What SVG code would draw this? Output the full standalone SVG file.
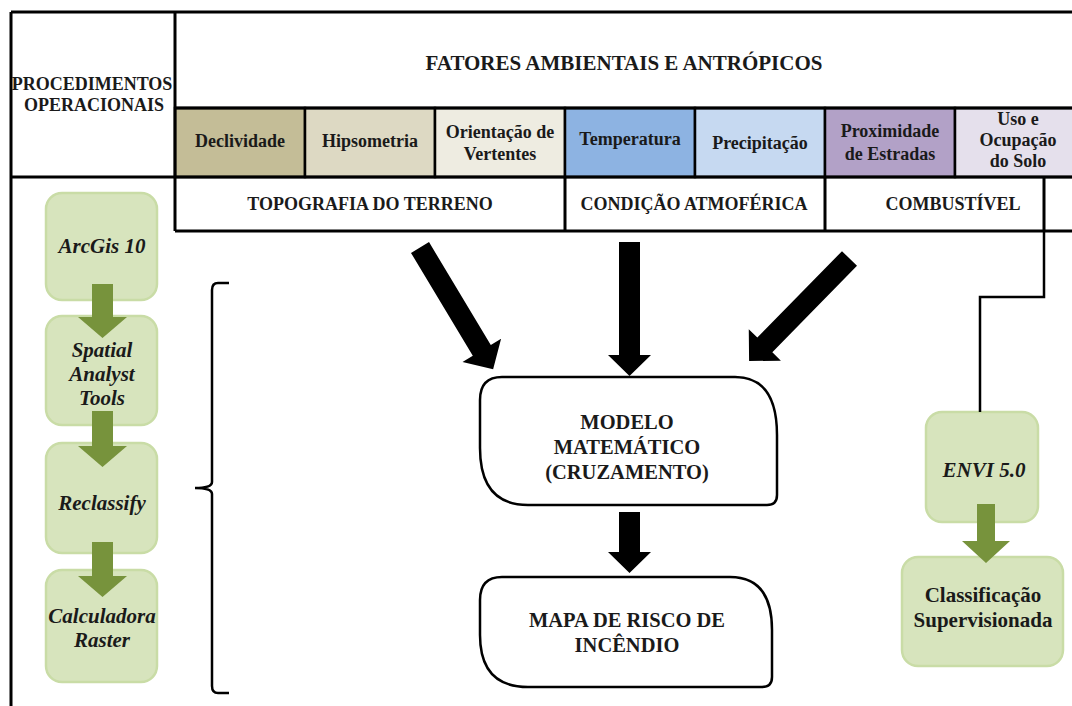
<svg xmlns="http://www.w3.org/2000/svg" width="1072" height="706" viewBox="0 0 1072 706">
<defs>
<style>
.t{font-family:"Liberation Serif","Times New Roman",serif;font-weight:bold;fill:#1a1a1a;text-anchor:middle}
.h{font-size:18px}
.big{font-size:20.5px}
.g{font-size:21px}
.it{font-style:italic}
.frame{stroke:#000;stroke-width:3;fill:none}
.cell{stroke:#000;stroke-width:2.5}
.gbox{fill:#d7e4bd;stroke:#c9dca6;stroke-width:2.5}
.garrow{fill:#77933c}
.barrow{fill:#000}
.bbox{fill:#fff;stroke:#000;stroke-width:2.5}
.conn{stroke:#000;stroke-width:2.5;fill:none}
</style>
</defs>
<rect width="1072" height="706" fill="#fff"/>

<g id="table">
  <rect class="cell" x="175" y="108" width="130" height="69" fill="#c4bd97"/>
  <rect class="cell" x="305" y="108" width="130" height="69" fill="#ddd9c3"/>
  <rect class="cell" x="435" y="108" width="130" height="69" fill="#eeece1"/>
  <rect class="cell" x="565" y="108" width="130" height="69" fill="#8db3e2"/>
  <rect class="cell" x="695" y="108" width="130" height="69" fill="#c6d9f1"/>
  <rect class="cell" x="825" y="108" width="130" height="69" fill="#b2a1c7"/>
  <rect class="cell" x="955" y="108" width="130" height="69" fill="#e5e0ec"/>
  <path class="frame" d="M11,12 H1072 M11,12 V706 M175,12 V231 M175,108 H1072 M11,177 H1072 M175,231 H1072 M565,177 V231 M825,177 V231 M1044,177 V231"/>
  <text class="t h" x="92" y="90">PROCEDIMENTOS</text>
  <text class="t h" x="94" y="111">OPERACIONAIS</text>
  <text class="t" style="font-size:21px" x="624" y="70">FATORES AMBIENTAIS E ANTRÓPICOS</text>
  <text class="t h" x="240" y="147">Declividade</text>
  <text class="t h" x="370" y="147">Hipsometria</text>
  <text class="t h" x="500" y="138">Orientação de</text>
  <text class="t h" x="500" y="160">Vertentes</text>
  <text class="t h" x="630" y="145">Temperatura</text>
  <text class="t h" x="760" y="149">Precipitação</text>
  <text class="t h" x="890" y="137">Proximidade</text>
  <text class="t h" x="890" y="160">de Estradas</text>
  <text class="t h" x="1018" y="125">Uso e</text>
  <text class="t h" x="1018" y="146">Ocupação</text>
  <text class="t h" x="1018" y="167">do Solo</text>
  <text class="t h" x="370" y="210">TOPOGRAFIA DO TERRENO</text>
  <text class="t h" x="694" y="210">CONDIÇÃO ATMOFÉRICA</text>
  <text class="t h" x="953" y="210">COMBUSTÍVEL</text>
</g>

<g id="arcgis">
  <rect class="gbox" x="46" y="193" width="111" height="107" rx="16"/>
  <text class="t g it" x="102" y="253">ArcGis 10</text>
</g>
<g id="spatial">
  <rect class="gbox" x="46" y="316" width="111" height="109" rx="16"/>
  <text class="t g it" x="102" y="357">Spatial</text>
  <text class="t g it" x="102" y="381">Analyst</text>
  <text class="t g it" x="102" y="405">Tools</text>
</g>
<g id="reclassify">
  <rect class="gbox" x="46" y="443" width="111" height="110" rx="16"/>
  <text class="t g it" x="102" y="510">Reclassify</text>
</g>
<g id="calculadora">
  <rect class="gbox" x="46" y="570" width="111" height="112" rx="16"/>
  <text class="t g it" x="102" y="623">Calculadora</text>
  <text class="t g it" x="102" y="647">Raster</text>
</g>
<g id="envi">
  <rect class="gbox" x="926" y="412" width="112" height="110" rx="16"/>
  <text class="t g it" x="984" y="477">ENVI 5.0</text>
</g>
<g id="classificacao">
  <rect class="gbox" x="902" y="557" width="161" height="109" rx="16"/>
  <text class="t g" x="983" y="602">Classificação</text>
  <text class="t g" x="983" y="627">Supervisionada</text>
</g>

<g id="modelo">
  <path class="bbox" d="M502,377 H735 Q777,377 777,435 V495 Q777,505 767,505 H528 Q480,505 480,448 V400 Q480,377 502,377 Z"/>
  <text class="t big" x="627" y="429">MODELO</text>
  <text class="t big" x="627" y="454">MATEMÁTICO</text>
  <text class="t big" x="627" y="479">(CRUZAMENTO)</text>
</g>
<g id="mapa">
  <path class="bbox" d="M502,577 H730 Q772,577 772,630 V677 Q772,687 762,687 H528 Q480,687 480,635 V600 Q480,577 502,577 Z"/>
  <text class="t big" x="627" y="627">MAPA DE RISCO DE</text>
  <text class="t big" x="627" y="652">INCÊNDIO</text>
</g>

<g id="brace">
  <path class="conn" stroke-width="2" d="M229,283 H218 Q212,283 212,290 V482 Q212,488 195,488 Q212,488 212,494 V686 Q212,693 218,693 H229"/>
</g>

<g id="connectors">
  <polygon class="garrow" points="92,284 113,284 113,317 127,317 102.5,338 78,317 92,317"/>
  <polygon class="garrow" points="92,411 113,411 113,446 127,446 102.5,467 78,446 92,446"/>
  <polygon class="garrow" points="92,542 113,542 113,576 127,576 102.5,597 78,576 92,576"/>
  <polygon class="garrow" points="977,504 995,504 995,541 1010,541 986,563 962,541 977,541"/>
  <polygon class="barrow" points="619,242 640,242 640,355 651,355 629.5,376 608,355 619,355"/>
  <polygon class="barrow" points="619,512 640,512 640,552 651,552 629.5,573 608,552 619,552"/>
  <polygon class="barrow" transform="translate(420,247.5) rotate(-31)" points="-10.5,0 10.5,0 10.5,120 22.5,120 0,142 -22.5,120 -10.5,120"/>
  <polygon class="barrow" transform="translate(849.5,258.5) rotate(44.4)" points="-10.5,0 10.5,0 10.5,121 22.5,121 0,143.5 -22.5,121 -10.5,121"/>
  <path class="conn" d="M1044,231 V297 H980 V412"/>
</g>
</svg>
